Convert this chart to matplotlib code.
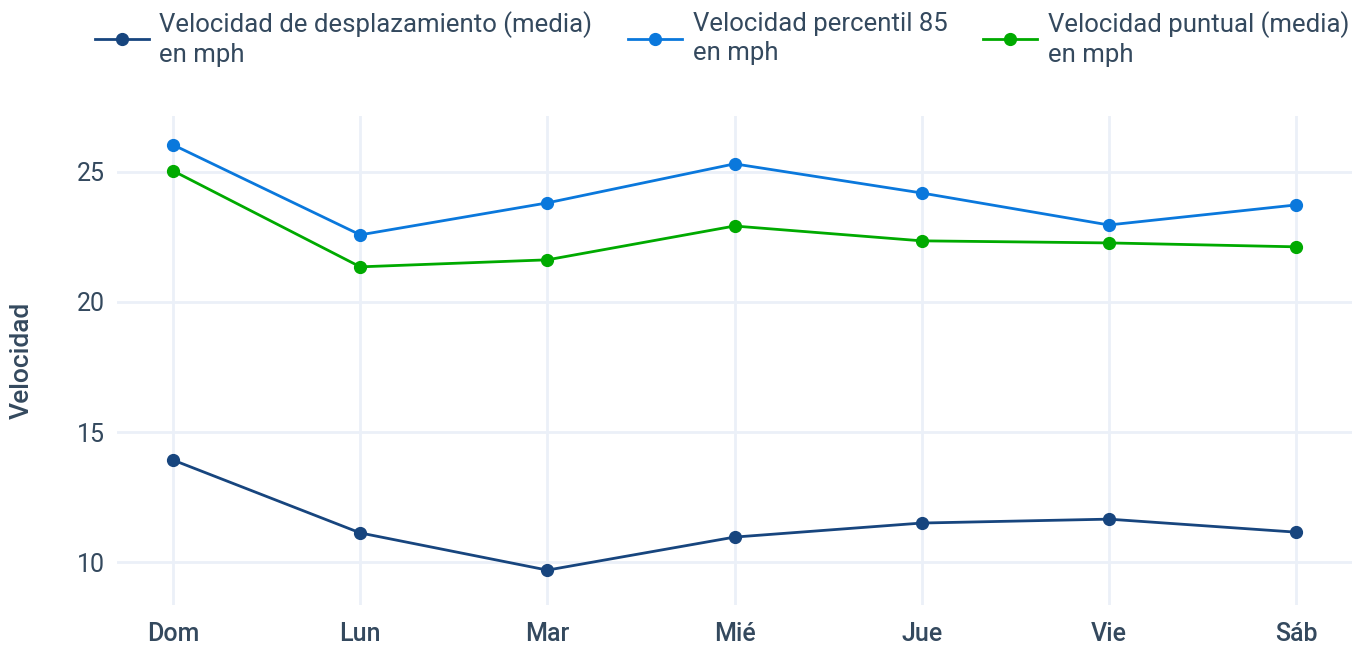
import matplotlib.pyplot as plt

plt.rcParams['font.family'] = ['Roboto', 'DejaVu Sans']

# data
dias = ['Dom', 'Lun', 'Mar', 'Mié', 'Jue', 'Vie', 'Sáb']
desplazamiento = [13.92, 11.12, 9.69, 10.96, 11.5, 11.65, 11.15]
percentil85 = [26.04, 22.58, 23.81, 25.31, 24.19, 22.96, 23.73]
puntual = [25.04, 21.35, 21.62, 22.92, 22.35, 22.27, 22.12]

text_col = '#34495e'
grid_col = '#ebf0f8'

fig = plt.figure(figsize=(13.7, 6.48), dpi=100)
ax = fig.add_axes([0.0854, 0.0664, 0.9015, 0.7546])

x = range(len(dias))
ax.plot(x, desplazamiento, color='#17457e', lw=2, marker='o', ms=8.5,
        label='Velocidad de desplazamiento (media)\nen mph')
ax.plot(x, percentil85, color='#0a78dc', lw=2, marker='o', ms=8.5,
        label='Velocidad percentil 85\nen mph')
ax.plot(x, puntual, color='#00aa00', lw=2, marker='o', ms=8.5,
        label='Velocidad puntual (media)\nen mph')

ax.set_xlim(-0.3, 6.3)
ax.set_ylim(8.35, 27.15)
ax.set_xticks(list(x))
ax.set_xticklabels(dias)
ax.set_yticks([10, 15, 20, 25])
ax.grid(True, color=grid_col, lw=2)
ax.set_axisbelow(True)
for s in ax.spines.values():
    s.set_visible(False)
ax.tick_params(length=0, labelsize=18, colors=text_col)
ax.tick_params(axis='x', pad=12)
ax.tick_params(axis='y', pad=9)
for lbl in ax.get_xticklabels():
    lbl.set_fontweight('medium')
ax.set_ylabel('Velocidad', fontsize=19, color=text_col, fontweight='medium')
ax.yaxis.set_label_coords(-0.067, 0.5)

leg = fig.legend(loc='upper left', bbox_to_anchor=(0.0695, 0.983), ncol=3, frameon=False,
                 fontsize=18.5, handlelength=2.1, handletextpad=0.4, columnspacing=1.4,
                 labelspacing=0.2, borderaxespad=0, borderpad=0)
for t in leg.get_texts():
    t.set_color(text_col)
    t.set_linespacing(1.25)

fig.savefig('out.png', dpi=100)
